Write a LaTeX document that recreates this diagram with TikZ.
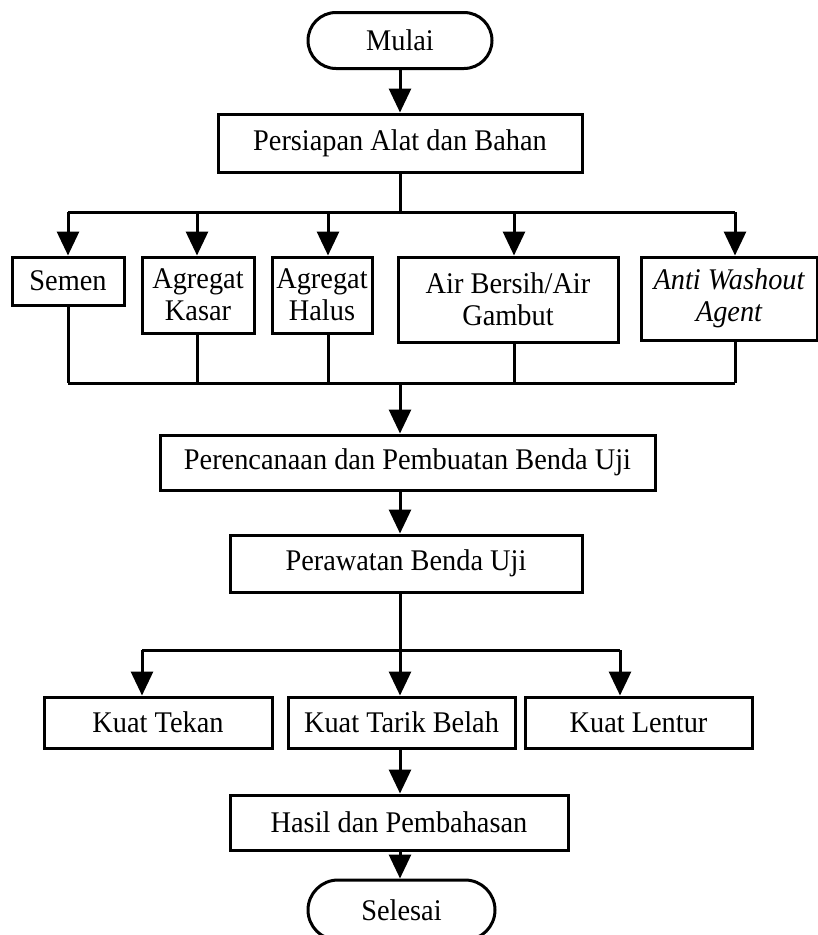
\documentclass[tikz,border=0pt]{standalone}
\usepackage{fontspec}
\usepackage{graphicx}
\setmainfont{Liberation Serif}
\usetikzlibrary{arrows.meta,shapes.misc}
\newcommand\tx[1]{\scalebox{0.945}[1]{#1}}
\begin{document}
\begin{tikzpicture}[x=1pt,y=-1pt,
  lw/.style={line width=3pt},
  box/.style={draw,lw,rectangle,align=center,inner sep=0pt,
    font=\fontsize{30}{32}\selectfont},
  term/.style={draw,lw,rounded rectangle,align=center,inner sep=0pt,
    font=\fontsize{30}{32}\selectfont},
  arr/.style={lw,-{Triangle[width=22pt,length=24pt]}},
  ln/.style={lw}]
\useasboundingbox (0,0) rectangle (818,935);
% nodes
\node[term,minimum width=184pt,minimum height=56pt] (mulai) at (400,40.5) {\tx{Mulai}};
\node[box,minimum width=364pt,minimum height=58pt] (persiapan) at (400,143) {\tx{Persiapan Alat dan Bahan}};
\node[box,minimum width=112pt,minimum height=48pt] (semen) at (68,281) {\tx{Semen}};
\node[box,minimum width=112pt,minimum height=76pt] (kasar) at (198,295) {\tx{Agregat}\\\tx{Kasar}};
\node[box,minimum width=100pt,minimum height=76pt] (halus) at (322,295) {\tx{Agregat}\\\tx{Halus}};
\node[box,minimum width=220pt,minimum height=85pt] (air) at (508,299.5) {\tx{Air Bersih/Air}\\\tx{Gambut}};
\node[box,minimum width=176pt,minimum height=83pt] (anti) at (729,298.5) {\tx{\itshape Anti Washout}\\\tx{\itshape Agent}};
\node[box,minimum width=495pt,minimum height=55pt] (rencana) at (407.5,462.5) {\tx{Perencanaan dan Pembuatan Benda Uji}};
\node[box,minimum width=352pt,minimum height=57pt] (rawat) at (406,563.5) {\tx{Perawatan Benda Uji}};
\node[box,minimum width=228pt,minimum height=51pt] (tekan) at (158,722.5) {\tx{Kuat Tekan}};
\node[box,minimum width=227pt,minimum height=51pt] (tarik) at (401.5,722.5) {\tx{Kuat Tarik Belah}};
\node[box,minimum width=227pt,minimum height=51pt] (lentur) at (638.5,722.5) {\tx{Kuat Lentur}};
\node[box,minimum width=338pt,minimum height=55pt] (hasil) at (399,822.5) {\tx{Hasil dan Pembahasan}};
\node[term,minimum width=187pt,minimum height=60pt] (selesai) at (401.5,910) {\tx{Selesai}};
% bar coordinates
\coordinate (b1) at (400,212);
\coordinate (b1a) at (68,212);
\coordinate (b1b) at (197,212);
\coordinate (b1c) at (328,212);
\coordinate (b1d) at (514,212);
\coordinate (b1e) at (735,212);
\coordinate (b2) at (400,383);
\coordinate (b2a) at (68,383);
\coordinate (b2b) at (197,383);
\coordinate (b2c) at (328,383);
\coordinate (b2d) at (514,383);
\coordinate (b2e) at (735,383);
\coordinate (b3) at (400,650);
\coordinate (b3a) at (142,650);
\coordinate (b3c) at (620,650);
% connectors
\draw[arr] (mulai) -- (persiapan);
\draw[ln] (persiapan) -- (b1);
\draw[ln] (b1a) -- (b1e);
\draw[arr] (b1a) -- (b1a |- semen.north);
\draw[arr] (b1b) -- (b1b |- kasar.north);
\draw[arr] (b1c) -- (b1c |- halus.north);
\draw[arr] (b1d) -- (b1d |- air.north);
\draw[arr] (b1e) -- (b1e |- anti.north);
\draw[ln] (b2a |- semen.south) -- (b2a);
\draw[ln] (b2b |- kasar.south) -- (b2b);
\draw[ln] (b2c |- halus.south) -- (b2c);
\draw[ln] (b2d |- air.south) -- (b2d);
\draw[ln] (b2e |- anti.south) -- (b2e);
\draw[ln] (b2a) -- (b2e);
\draw[arr] (b2) -- (b2 |- rencana.north);
\draw[arr] (b2 |- rencana.south) -- (b2 |- rawat.north);
\draw[ln] (b3 |- rawat.south) -- (b3);
\draw[ln] (b3a) -- (b3c);
\draw[arr] (b3a) -- (b3a |- tekan.north);
\draw[arr] (b3) -- (b3 |- tarik.north);
\draw[arr] (b3c) -- (b3c |- lentur.north);
\draw[arr] (b3 |- tarik.south) -- (b3 |- hasil.north);
\draw[arr] (b3 |- hasil.south) -- (b3 |- selesai.north);
\end{tikzpicture}
\end{document}
